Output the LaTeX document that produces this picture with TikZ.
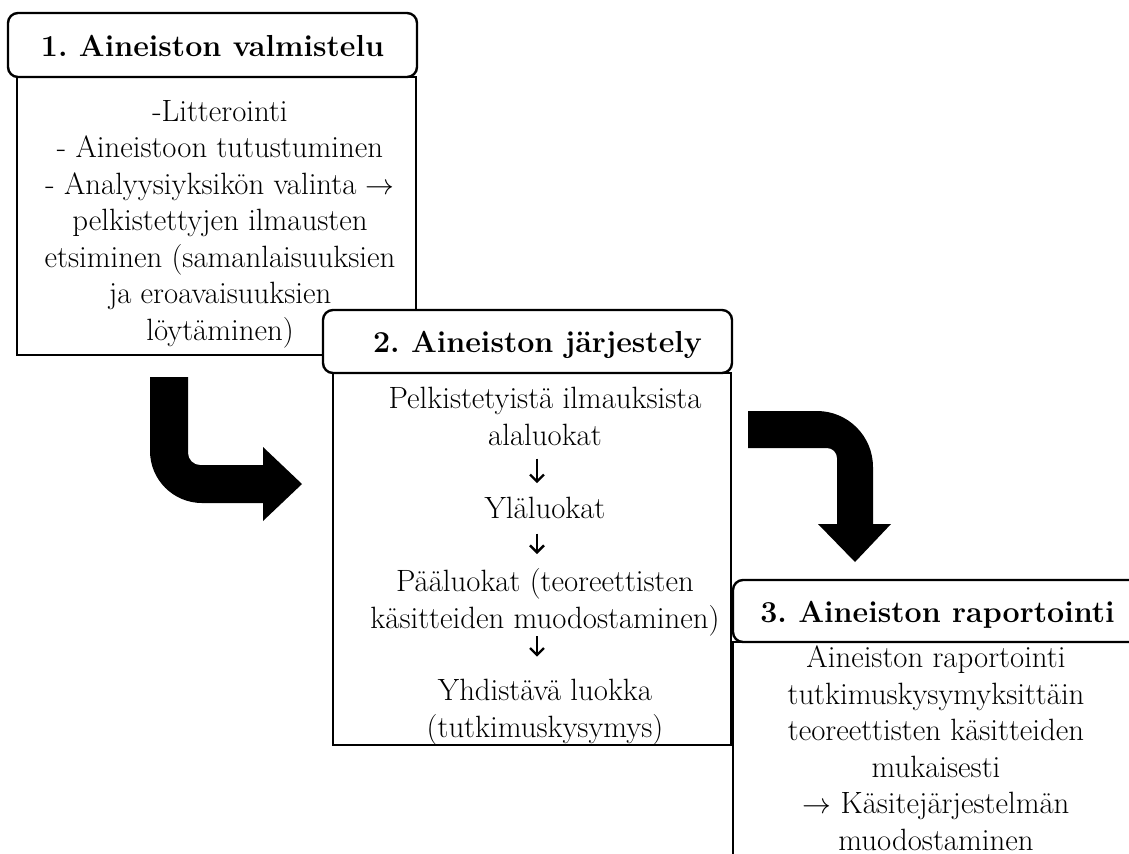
\documentclass[tikz,border=0pt]{standalone}
\usepackage{amsmath}
\usetikzlibrary{arrows.meta, positioning}
\frenchspacing

\begin{document}
\begin{tikzpicture}[x=0.5pt, y=-0.5pt,
  head/.style={draw, line width=1.2pt, fill=white, rounded corners=5pt, minimum width=204.5pt, minimum height=32pt, inner sep=0pt, text height=11pt, text depth=0pt, font=\fontsize{15.2}{18}\selectfont\bfseries},
  body/.style={draw, line width=1.2pt, fill=white, inner sep=0pt},
  txt/.style={align=center, inner sep=0pt, anchor=base, font=\fontsize{15.4}{18.25}\selectfont},
  down/.style={line width=1.2pt, -{Straight Barb[length=3.5pt, width=7pt]}}]
\useasboundingbox (0,0) rectangle (1129,853);
\clip (0,0) rectangle (1129,853);

\node[body, minimum width=199.5pt, minimum height=139pt] (b1) at (216.5,216) {};
\node[head] (h1) at (212.5,45) {1. Aineiston valmistelu};
\node[txt] (t1) at (220,340) {-Litterointi\\- Aineistoon tutustuminen\\- Analyysiyksikön valinta $\rightarrow$\\pelkistettyjen ilmausten\\etsiminen (samanlaisuuksien\\ja eroavaisuuksien\\löytäminen)};

\node[body, minimum width=199pt, minimum height=186pt] (b2) at (532,559) {};
\node[head, minimum height=31.5pt] (h2) at (527.5,341.5) {\hspace{10pt}2. Aineiston järjestely};
\node[txt] (p1) at (545,445) {Pelkistetyistä ilmauksista\\alaluokat};
\node[txt] (p2) at (545,518) {Yläluokat};
\node[txt] (p3) at (545,628) {Pääluokat (teoreettisten\\käsitteiden muodostaminen)};
\node[txt] (p4) at (545,737) {Yhdistävä luokka\\(tutkimuskysymys)};
\draw[down] ([xshift=-4pt, yshift=-6.5pt]p1.south) -- ([xshift=-4pt, yshift=6.5pt]p2.north);
\draw[down] ([xshift=-4pt, yshift=-7.5pt]p2.south) -- ([xshift=-4pt, yshift=7pt]p3.north);
\draw[down] ([xshift=-4pt, yshift=0pt]p3.south) -- ([xshift=-4pt, yshift=11pt]p4.north);

\node[body, minimum width=203.5pt, minimum height=186pt] (b3) at (936.5,828) {};
\node[head, minimum height=31pt] (h3) at (937.5,611) {3. Aineiston raportointi};
\node[txt] (t3) at (936,850) {Aineiston raportointi\\tutkimuskysymyksittäin\\teoreettisten käsitteiden\\mukaisesti\\$\rightarrow$ Käsitejärjestelmän\\muodostaminen};

\fill (150,377) -- (188,377) -- (188,453) .. controls (188,459.6) and (193.4,465) .. (200,465) -- (263,465) -- (263,447) -- (302,484) -- (263,521) -- (263,503) -- (202,503) .. controls (173.3,503) and (150,479.7) .. (150,451) -- cycle;
\fill (748,411) -- (817,411) .. controls (847.9,411) and (873,436.1) .. (873,467) -- (873,524) -- (891,524) -- (855,562) -- (818,524) -- (837,524) -- (837,458) .. controls (837,452.5) and (832.5,448) .. (827,448) -- (748,448) -- cycle;
\end{tikzpicture}
\end{document}
